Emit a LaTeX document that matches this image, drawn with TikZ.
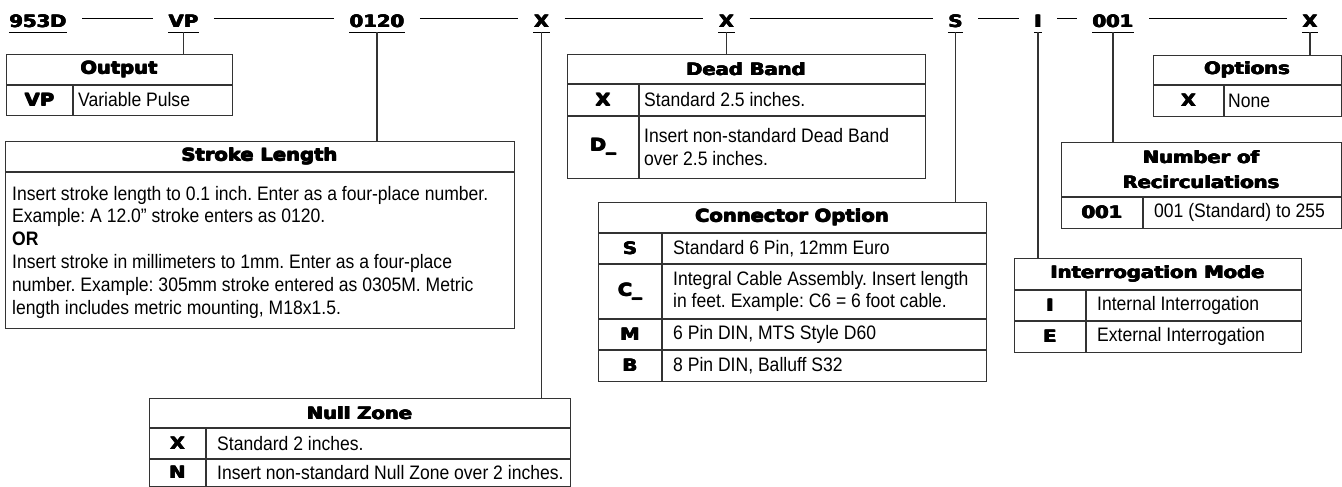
\documentclass[tikz,border=0pt]{standalone}
\usepackage{fontspec}
\setmainfont{Liberation Sans}[FakeStretch=0.9]
\newfontfamily\hd[FakeStretch=1.15]{DejaVu Sans Bold}
\newcommand\hvy[1]{\leavevmode\rlap{#1}\rlap{\raisebox{0.5pt}{#1}}\rlap{\kern0.8pt\raisebox{0.5pt}{#1}}\kern0.8pt#1}
\definecolor{boxc}{gray}{0.2}
\frenchspacing
\begin{document}
\begin{tikzpicture}[x=1pt,y=-1pt,
  tbl/.style={draw=boxc,line width=1.3pt,inner sep=0pt,anchor=north west},
  grid/.style={draw=boxc,line width=1.3pt},
  hdr/.style={font=\hd\fontsize{17}{25}\selectfont,inner sep=0pt,align=center},
  cd/.style={font=\hd\fontsize{17}{20}\selectfont,inner sep=0pt},
  ds/.style={font=\frenchspacing\fontsize{19.5}{22.9}\selectfont,inner sep=0pt,anchor=west,align=left},
  sl/.style={font=\frenchspacing\fontsize{19.5}{22.9}\selectfont,inner sep=0pt,anchor=base west},
  code/.style={font=\hd\fontsize{17}{20}\selectfont,inner sep=0pt,anchor=base},
  uline/.style={line width=1pt},
  conn/.style={draw=boxc,line width=1.3pt},
  dashln/.style={line width=1pt,shorten <=15pt,shorten >=15pt}]
\useasboundingbox (0,0) rectangle (1342,487);

% ---- top code row ----
\node[code] (c1) at (38,28) {\hvy{953D}};
\node[code] (c2) at (183.5,28) {\hvy{VP}};
\node[code] (c3) at (377,28) {\hvy{0120}};
\node[code] (c4) at (541.5,28) {\hvy{X}};
\node[code] (c5) at (726.5,28) {\hvy{X}};
\node[code] (c6) at (955.5,28) {\hvy{S}};
\node[code] (c7) at (1038,28) {\hvy{I}};
\node[code] (c8) at (1113,28) {\hvy{001}};
\node[code] (c9) at (1310,28) {\hvy{X}};
\foreach \n in {c1,c2,c3,c4,c5,c6,c7,c8,c9}
  \draw[uline] ([yshift=-4pt]\n.south west) -- ([yshift=-4pt]\n.south east);
\draw[dashln] (c1.east |- 0,19) -- (c2.west |- 0,19);
\draw[dashln] (c2.east |- 0,19) -- (c3.west |- 0,19);
\draw[dashln] (c3.east |- 0,19) -- (c4.west |- 0,19);
\draw[dashln] (c4.east |- 0,19) -- (c5.west |- 0,19);
\draw[dashln] (c5.east |- 0,19) -- (c6.west |- 0,19);
\draw[dashln] (c6.east |- 0,19) -- (c7.west |- 0,19);
\draw[dashln] (c7.east |- 0,19) -- (c8.west |- 0,19);
\draw[dashln] (c8.east |- 0,19) -- (c9.west |- 0,19);

% ---- Output ----
\node[tbl,minimum width=226pt,minimum height=61pt] (outbox) at (6,54) {};
\draw[grid] (6,85) -- (232,85) (73,85) -- (73,115);
\node[hdr] (outh) at (119,69.5) {\hvy{Output}};
\node[cd] (outc1) at (39.5,100) {\hvy{VP}};
\node[ds] (outd1) at (78,100) {Variable Pulse};

% ---- Stroke Length ----
\node[tbl,minimum width=509pt,minimum height=187pt] (strbox) at (5,141) {};
\draw[grid] (5,172) -- (514,172);
\node[hdr] (strh) at (259.5,156.5) {\hvy{Stroke Length}};
\node[sl] (s1) at (12,200) {Insert stroke length to 0.1 inch. Enter as a four-place number.};
\node[sl] (s2) at (12,222.9) {Example: A 12.0” stroke enters as 0120.};
\node[sl] (s3) at (12,245.8) {\bfseries OR};
\node[sl] (s4) at (12,268.7) {Insert stroke in millimeters to 1mm. Enter as a four-place};
\node[sl] (s5) at (12,291.6) {number. Example: 305mm stroke entered as 0305M. Metric};
\node[sl] (s6) at (12,314.5) {length includes metric mounting, M18x1.5.};

% ---- Dead Band ----
\node[tbl,minimum width=358pt,minimum height=124pt] (dbbox) at (567,54) {};
\draw[grid] (567,84) -- (925,84) (567,116) -- (925,116) (639,84) -- (639,178);
\node[hdr] (dbh) at (746,69) {\hvy{Dead Band}};
\node[cd] (dbc1) at (603,100) {\hvy{X}};
\node[cd] (dbc2) at (603,147) {\hvy{D\_}};
\node[ds] (dbd1) at (644,100) {Standard 2.5 inches.};
\node[ds] (dbd2) at (644,147) {Insert non-standard Dead Band\\over 2.5 inches.};

% ---- Connector Option ----
\node[tbl,minimum width=388pt,minimum height=179pt] (cobox) at (598,202) {};
\draw[grid] (598,233) -- (986,233) (598,264) -- (986,264) (598,319) -- (986,319)
  (598,350) -- (986,350) (662,233) -- (662,381);
\node[hdr] (coh) at (792,217.5) {\hvy{Connector Option}};
\node[cd] (coc1) at (630,248.5) {\hvy{S}};
\node[cd] (coc2) at (630,291.5) {\hvy{C\_}};
\node[cd] (coc3) at (630,334.5) {\hvy{M}};
\node[cd] (coc4) at (630,365.5) {\hvy{B}};
\node[ds] (cod1) at (673,248.5) {Standard 6 Pin, 12mm Euro};
\node[ds] (cod2) at (673,291.5) {Integral Cable Assembly. Insert length\\in feet. Example: C6 = 6 foot cable.};
\node[ds] (cod3) at (673,334.5) {6 Pin DIN, MTS Style D60};
\node[ds] (cod4) at (673,365.5) {8 Pin DIN, Balluff S32};

% ---- Options ----
\node[tbl,minimum width=188pt,minimum height=61pt] (opbox) at (1153,55) {};
\draw[grid] (1153,85) -- (1341,85) (1224,85) -- (1224,116);
\node[hdr] (oph) at (1247,70) {\hvy{Options}};
\node[cd] (opc1) at (1188.5,100.5) {\hvy{X}};
\node[ds] (opd1) at (1228,100.5) {None};

% ---- Number of Recirculations ----
\node[tbl,minimum width=280pt,minimum height=86pt] (rcbox) at (1061,142) {};
\draw[grid] (1061,197) -- (1341,197) (1143,197) -- (1143,228);
\node[hdr] (rch) at (1201,169.5) {\hvy{Number of}\\\hvy{Recirculations}};
\node[cd] (rcc1) at (1102,212.5) {\hvy{001}};
\node[ds] (rcd1) at (1154,212.5) {001 (Standard) to 255};

% ---- Interrogation Mode ----
\node[tbl,minimum width=287pt,minimum height=94pt] (imbox) at (1014,258) {};
\draw[grid] (1014,290) -- (1301,290) (1014,321) -- (1301,321) (1086,290) -- (1086,352);
\node[hdr] (imh) at (1157.5,274) {\hvy{Interrogation Mode}};
\node[cd] (imc1) at (1050,305.5) {\hvy{I}};
\node[cd] (imc2) at (1050,336.5) {\hvy{E}};
\node[ds] (imd1) at (1097,305.5) {Internal Interrogation};
\node[ds] (imd2) at (1097,336.5) {External Interrogation};

% ---- Null Zone ----
\node[tbl,minimum width=421pt,minimum height=88pt] (nzbox) at (149,398) {};
\draw[grid] (149,428) -- (570,428) (149,459) -- (570,459) (206,428) -- (206,486);
\node[hdr] (nzh) at (359.5,413) {\hvy{Null Zone}};
\node[cd] (nzc1) at (177.5,443.5) {\hvy{X}};
\node[cd] (nzc2) at (177.5,472.5) {\hvy{N}};
\node[ds] (nzd1) at (217,443.5) {Standard 2 inches.};
\node[ds] (nzd2) at (217,472.5) {Insert non-standard Null Zone over 2 inches.};

% ---- connectors from codes to tables ----
\draw[conn] ([yshift=-4pt]c2.south) -- (c2.south |- outbox.north);
\draw[conn] ([yshift=-4pt]c3.south) -- (c3.south |- strbox.north);
\draw[conn] ([yshift=-4pt]c4.south) -- (c4.south |- nzbox.north);
\draw[conn] ([yshift=-4pt]c5.south) -- (c5.south |- dbbox.north);
\draw[conn] ([yshift=-4pt]c6.south) -- (c6.south |- cobox.north);
\draw[conn] ([yshift=-4pt]c7.south) -- (c7.south |- imbox.north);
\draw[conn] ([yshift=-4pt]c8.south) -- (c8.south |- rcbox.north);
\draw[conn] ([yshift=-4pt]c9.south) -- (c9.south |- opbox.north);
\end{tikzpicture}
\end{document}
